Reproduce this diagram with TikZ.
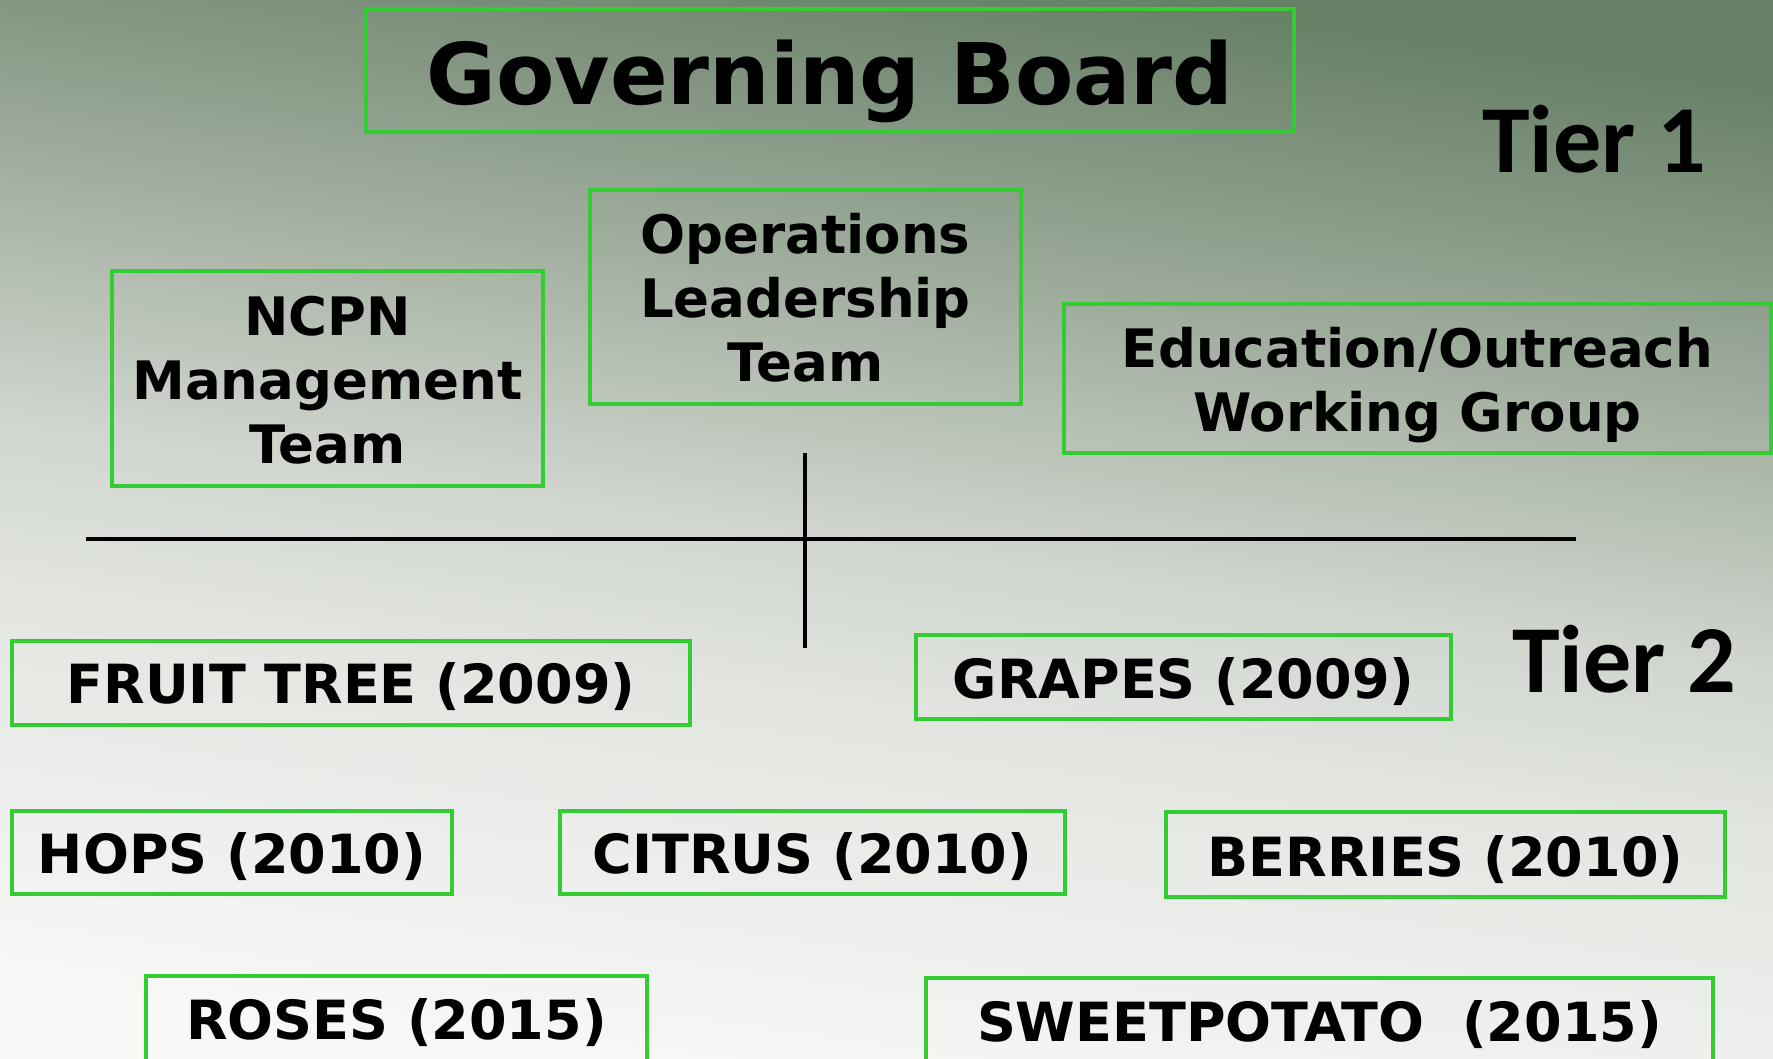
\documentclass[tikz,border=0pt]{standalone}
\usepackage{fontspec}
\setmainfont{DejaVu Sans}
\newfontfamily\tierfont{Carlito}
\definecolor{boxgreen}{RGB}{51,204,51}
\definecolor{bgA}{RGB}{248,248,247}
\definecolor{bgB}{RGB}{226,229,224}
\definecolor{bgC}{RGB}{208,213,206}
\definecolor{bgD}{RGB}{150,165,148}
\definecolor{bgE}{RGB}{102,127,101}
\pgfdeclareverticalshading{bgshade}{100bp}{color(0bp)=(bgA); color(25bp)=(bgA); color(41.9bp)=(bgB); color(49.5bp)=(bgC); color(63.2bp)=(bgD); color(75bp)=(bgE); color(100bp)=(bgE)}
\begin{document}
\begin{tikzpicture}[x=1pt,y=-1pt,
  gbox/.style={draw=boxgreen, line width=4.5pt, rectangle, inner sep=0pt},
  bigtxt/.style={font=\bfseries\fontsize{85}{100}\selectfont, inner sep=0pt, anchor=base},
  multitxt/.style={font=\bfseries\fontsize{53}{64}\selectfont, align=center, inner sep=0pt, anchor=center},
  onetxt/.style={font=\bfseries\fontsize{54}{64}\selectfont, inner sep=0pt, anchor=base},
  tiertxt/.style={font=\tierfont\bfseries\fontsize{96}{110}\selectfont, inner sep=0pt, anchor=base},
  rule/.style={line width=4.5pt, black}]
\useasboundingbox (0,0) rectangle (1773,1058);
\begin{scope}
\clip (0,0) rectangle (1773,1058);
\shade[shading=bgshade, shading angle=-8] (0,1058) rectangle (1773,0);
% boxes
\node[gbox, minimum width=928pt, minimum height=123pt] (gb) at (830,70.5) {};
\node[gbox, minimum width=431pt, minimum height=215pt] (ncpn) at (327.5,378.5) {};
\node[gbox, minimum width=431pt, minimum height=214pt] (ops) at (805.5,297) {};
\node[gbox, minimum width=707pt, minimum height=149pt] (edu) at (1417.5,378.5) {};
\node[gbox, minimum width=678pt, minimum height=84pt] (fruit) at (351,683) {};
\node[gbox, minimum width=535pt, minimum height=84pt] (grapes) at (1183.5,677) {};
\node[gbox, minimum width=440pt, minimum height=83pt] (hops) at (232,852.5) {};
\node[gbox, minimum width=505pt, minimum height=83pt] (citrus) at (812.5,852.5) {};
\node[gbox, minimum width=559pt, minimum height=85pt] (berries) at (1445.5,854.5) {};
\node[gbox, minimum width=501pt, minimum height=100pt] (roses) at (396.5,1026) {};
\node[gbox, minimum width=787pt, minimum height=100pt] (sweet) at (1319.5,1028) {};
% texts
\node[bigtxt] (gbT) at (830,104) {Governing Board};
\node[multitxt] (ncpnT) at (327.5,380.5) {NCPN\\Management\\Team};
\node[multitxt] (opsT) at (805.5,298) {Operations\\Leadership\\Team};
\node[multitxt] (eduT) at (1417.5,385.5) {Education/Outreach\\Working Group};
\node[onetxt] (fruitT) at (351,703) {FRUIT TREE (2009)};
\node[onetxt] (grapesT) at (1183.5,698) {GRAPES (2009)};
\node[onetxt] (hopsT) at (232,873) {HOPS (2010)};
\node[onetxt] (citrusT) at (812.5,873) {CITRUS (2010)};
\node[onetxt] (berriesT) at (1445.5,876) {BERRIES (2010)};
\node[onetxt] (rosesT) at (396.5,1039) {ROSES (2015)};
\node[onetxt] (sweetT) at (1319.5,1041) {SWEETPOTATO\ \ (2015)};
\node[tiertxt] (tier1) at (1594,172) {Tier 1};
\node[tiertxt] (tier2) at (1624,692) {Tier 2};
% connector lines
\coordinate (hL) at (86,539);
\coordinate (hR) at (1576,539);
\coordinate (vT) at (805,453);
\coordinate (vB) at (805,648);
\draw[rule] (hL) -- (hR);
\draw[rule] (vT) -- (vB);
\end{scope}
\end{tikzpicture}
\end{document}
